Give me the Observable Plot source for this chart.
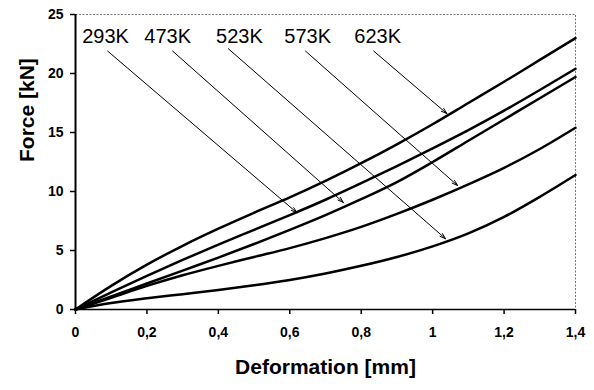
<!DOCTYPE html>
<html><head><meta charset="utf-8">
<script src="https://cdn.jsdelivr.net/npm/d3@7"></script>
<script src="https://cdn.jsdelivr.net/npm/@observablehq/plot@0.6"></script>
<style>body{margin:0;background:#fff}</style>
</head><body><div id="chart"></div>
<script>
// Deformation [mm]
const deformation = [0, 0.1, 0.2, 0.3, 0.4, 0.5, 0.6, 0.7, 0.8, 0.9, 1.0, 1.1, 1.2, 1.3, 1.4];
// Force [kN] per temperature
const force293K = [0, 1.45, 2.85, 4.2, 5.5, 6.75, 8.0, 9.3, 10.7, 12.15, 13.65, 15.2, 16.85, 18.6, 20.4];
const force473K = [0, 1.1, 2.2, 3.3, 4.4, 5.55, 6.75, 8.0, 9.35, 10.8, 12.5, 14.3, 16.1, 17.9, 19.7];
const force523K = [0, 0.55, 0.95, 1.3, 1.65, 2.05, 2.5, 3.05, 3.7, 4.45, 5.35, 6.45, 7.85, 9.55, 11.4];
const force573K = [0, 1.0, 2.0, 2.9, 3.7, 4.45, 5.2, 6.05, 7.0, 8.1, 9.3, 10.6, 12.0, 13.6, 15.4];
const force623K = [0, 2.0, 3.8, 5.4, 6.85, 8.2, 9.5, 10.9, 12.4, 14.0, 15.7, 17.5, 19.3, 21.15, 23.0];

const temperatures = ["293K", "473K", "523K", "573K", "623K"];
const forces = [force293K, force473K, force523K, force573K, force623K];

// Label positions and arrow targets (data coordinates)
const labelX = [0.084, 0.258, 0.459, 0.65, 0.846];
const labelY = [23.1, 23.1, 23.1, 23.1, 23.1];
const arrowFromX = [0.09, 0.272, 0.428, 0.644, 0.835];
const arrowFromY = [21.9, 21.9, 22.1, 21.9, 21.9];
const arrowToX = [0.62, 0.75, 1.036, 1.07, 1.04];
const arrowToY = [8.2, 9.07, 6.0, 10.5, 16.6];

const xTicks = [0, 0.2, 0.4, 0.6, 0.8, 1.0, 1.2, 1.4];
const yTicks = [0, 5, 10, 15, 20, 25];

const rows = temperatures.flatMap((t, i) => deformation.map((d, j) => ({temp: t, x: d, y: forces[i][j]})));
const labels = temperatures.map((t, i) => ({text: t, x: labelX[i], y: labelY[i]}));
const arrows = temperatures.map((t, i) => ({x1: arrowFromX[i], y1: arrowFromY[i], x2: arrowToX[i], y2: arrowToY[i]}));

const font = "'Liberation Sans', Arial, sans-serif";

const chart = Plot.plot({
  width: 594, height: 390,
  marginLeft: 75, marginRight: 19, marginTop: 14, marginBottom: 81,
  style: {fontFamily: font, background: "#fff", color: "#000"},
  x: {domain: [0, 1.4]},
  y: {domain: [0, 25]},
  marks: [
    Plot.frame({stroke: "#777", strokeDasharray: "2,1.5"}),
    Plot.axisX({ticks: xTicks, tickSize: 5, tickPadding: 13, tickFormat: d => String(d).replace(".", ","), fontSize: 14, fontWeight: "bold", label: null, strokeWidth: 1.5}),
    Plot.axisY({ticks: yTicks, tickSize: 5, tickPadding: 7, fontSize: 14, fontWeight: "bold", label: null, strokeWidth: 1.5}),
    Plot.ruleX([0], {stroke: "#000", strokeWidth: 2}),
    Plot.ruleY([0], {stroke: "#000", strokeWidth: 1.5}),
    Plot.line(rows, {x: "x", y: "y", z: "temp", stroke: "#000", strokeWidth: 2.5, curve: "monotone-x"}),
    Plot.arrow(arrows, {x1: "x1", y1: "y1", x2: "x2", y2: "y2", stroke: "#000", strokeWidth: 1, headLength: 9, headAngle: 35}),
    Plot.text(labels, {x: "x", y: "y", text: "text", fontSize: 20, fill: "#000"}),
    Plot.text(["Deformation [mm]"], {frameAnchor: "bottom", dy: 64, fontSize: 21, fontWeight: "bold", fill: "#000"}),
    Plot.text(["Force [kN]"], {frameAnchor: "left", dx: -48, rotate: -90, fontSize: 21, fontWeight: "bold", fill: "#000"})
  ]
});
document.getElementById("chart").append(chart);
</script>
</body></html>
